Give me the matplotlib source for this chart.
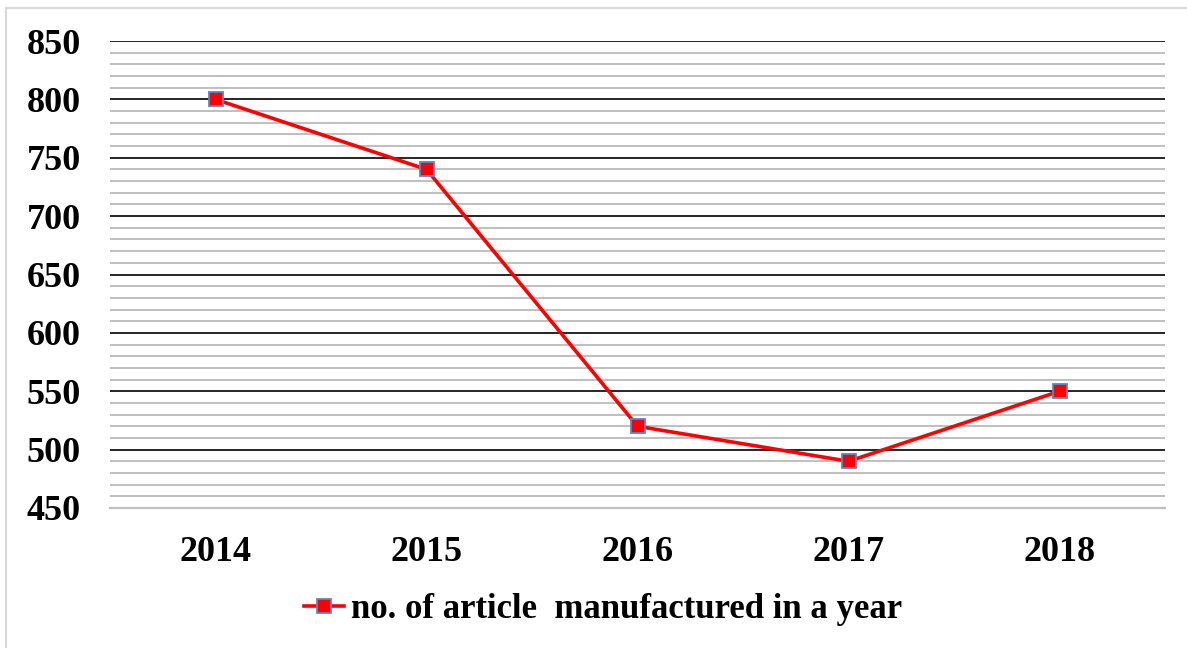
import matplotlib
matplotlib.use("Agg")
import matplotlib.pyplot as plt
from matplotlib.ticker import MultipleLocator
from matplotlib.lines import Line2D

years = ["2014", "2015", "2016", "2017", "2018"]
values = [800, 740, 520, 490, 550]
series_name = "no. of article  manufactured in a year"

W, H = 1187, 648
fig = plt.figure(figsize=(W / 100, H / 100), dpi=100)
ax = fig.add_axes([110 / W, 1 - 508 / H, (1165 - 110) / W, (508 - 41) / H])

x = list(range(len(years)))
ax.plot(x, values, color="#ff0000", lw=2.6, marker="s", markersize=9.5,
        markerfacecolor="#ff0000", markeredgecolor="#5b87c5", markeredgewidth=1.3,
        label=series_name, zorder=5)

ax.set_xlim(-0.5, len(years) - 0.5)
ax.set_ylim(450, 850)
ax.yaxis.set_major_locator(MultipleLocator(50))
ax.yaxis.set_minor_locator(MultipleLocator(10))
ax.grid(which="minor", axis="y", color="#bfbfbf", lw=1.4)
ax.grid(which="major", axis="y", color="#000000", lw=1.2)
ax.set_axisbelow(True)
for s in ax.spines.values():
    s.set_visible(False)
# bottom line (at 450) is gray, like the minor lines
ax.spines["bottom"].set_visible(True)
ax.spines["bottom"].set_color("#bfbfbf")
ax.spines["bottom"].set_linewidth(1.6)
ax.spines["bottom"].set_zorder(2)
ax.tick_params(which="both", length=0)
ax.set_xticks(x)
ax.set_xticklabels(years)
for lab in ax.get_xticklabels() + ax.get_yticklabels():
    lab.set_fontfamily("Liberation Serif")
    lab.set_fontweight("bold")
    lab.set_fontsize(26)
ax.tick_params(axis="y", pad=21)
ax.tick_params(axis="x", pad=20)

fig.legend(loc="center", bbox_to_anchor=(603 / W, 1 - 610 / H), frameon=False,
           prop={"family": "Liberation Serif", "weight": "bold", "size": 25},
           handlelength=1.15, handletextpad=0.2)

# chart area border (left and top visible)
fig.add_artist(Line2D([6 / W, 6 / W], [0, 1 - 8 / H], transform=fig.transFigure,
                      color="#d9d9d9", lw=1.5))
fig.add_artist(Line2D([6 / W, 1], [1 - 8 / H, 1 - 8 / H], transform=fig.transFigure,
                      color="#d9d9d9", lw=1.5))
fig.savefig("out.png", dpi=100)
